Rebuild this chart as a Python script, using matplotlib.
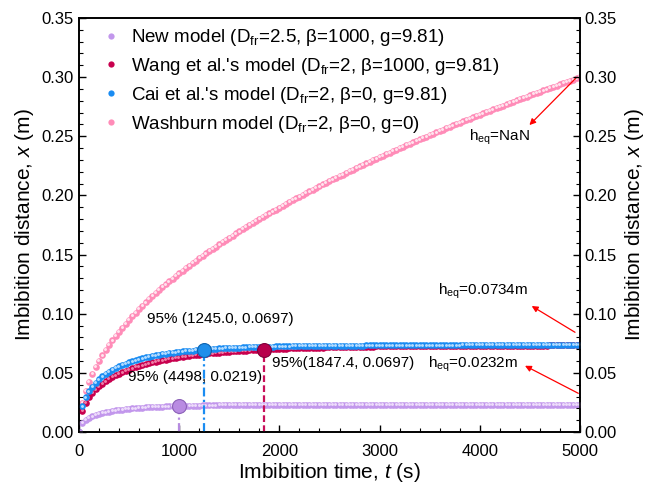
import numpy as np
import matplotlib.pyplot as plt
import matplotlib.transforms as mtransforms
from matplotlib.lines import Line2D
from matplotlib.ticker import MultipleLocator, FormatStrFormatter

plt.rcParams['font.family'] = 'Liberation Sans'
plt.rcParams['mathtext.fontset'] = 'custom'
plt.rcParams['mathtext.rm'] = 'Liberation Sans'
plt.rcParams['mathtext.it'] = 'Liberation Sans:italic'

# time grid of the computed curves (s)
time_s = np.linspace(0, 5000, 151)

washburn = [
    0.0000, 0.0245, 0.0346, 0.0424, 0.0490, 0.0548, 0.0600, 0.0648, 0.0693, 0.0735,
    0.0775, 0.0812, 0.0849, 0.0883, 0.0917, 0.0949, 0.0980, 0.1010, 0.1039, 0.1068,
    0.1095, 0.1123, 0.1149, 0.1175, 0.1200, 0.1225, 0.1249, 0.1273, 0.1296, 0.1319,
    0.1342, 0.1364, 0.1386, 0.1407, 0.1428, 0.1449, 0.1470, 0.1490, 0.1510, 0.1530,
    0.1549, 0.1568, 0.1587, 0.1606, 0.1625, 0.1643, 0.1661, 0.1679, 0.1697, 0.1715,
    0.1732, 0.1749, 0.1766, 0.1783, 0.1800, 0.1817, 0.1833, 0.1849, 0.1866, 0.1881,
    0.1897, 0.1913, 0.1929, 0.1944, 0.1960, 0.1975, 0.1990, 0.2005, 0.2020, 0.2035,
    0.2049, 0.2064, 0.2078, 0.2093, 0.2107, 0.2121, 0.2135, 0.2149, 0.2163, 0.2177,
    0.2191, 0.2205, 0.2218, 0.2231, 0.2245, 0.2258, 0.2272, 0.2285, 0.2298, 0.2311,
    0.2324, 0.2337, 0.2350, 0.2362, 0.2375, 0.2388, 0.2400, 0.2413, 0.2425, 0.2437,
    0.2450, 0.2462, 0.2474, 0.2486, 0.2498, 0.2510, 0.2522, 0.2534, 0.2546, 0.2557,
    0.2569, 0.2581, 0.2592, 0.2604, 0.2615, 0.2627, 0.2638, 0.2650, 0.2661, 0.2672,
    0.2683, 0.2694, 0.2705, 0.2717, 0.2728, 0.2739, 0.2750, 0.2760, 0.2771, 0.2782,
    0.2793, 0.2804, 0.2814, 0.2825, 0.2836, 0.2846, 0.2857, 0.2867, 0.2877, 0.2888,
    0.2898, 0.2909, 0.2919, 0.2929, 0.2939, 0.2950, 0.2960, 0.2970, 0.2980, 0.2990,
    0.3000,
]

cai = [
    0.0000, 0.0217, 0.0292, 0.0344, 0.0384, 0.0417, 0.0446, 0.0470, 0.0491, 0.0510,
    0.0526, 0.0541, 0.0555, 0.0567, 0.0578, 0.0589, 0.0598, 0.0606, 0.0614, 0.0623,
    0.0630, 0.0636, 0.0642, 0.0648, 0.0653, 0.0658, 0.0662, 0.0667, 0.0671, 0.0674,
    0.0678, 0.0681, 0.0684, 0.0687, 0.0689, 0.0692, 0.0694, 0.0697, 0.0699, 0.0701,
    0.0703, 0.0704, 0.0706, 0.0707, 0.0709, 0.0710, 0.0712, 0.0713, 0.0714, 0.0715,
    0.0716, 0.0717, 0.0718, 0.0719, 0.0720, 0.0720, 0.0721, 0.0722, 0.0722, 0.0723,
    0.0724, 0.0724, 0.0725, 0.0725, 0.0726, 0.0726, 0.0727, 0.0727, 0.0727, 0.0728,
    0.0728, 0.0728, 0.0729, 0.0729, 0.0729, 0.0729, 0.0730, 0.0730, 0.0730, 0.0730,
    0.0731, 0.0731, 0.0731, 0.0731, 0.0731, 0.0731, 0.0732, 0.0732, 0.0732, 0.0732,
    0.0732, 0.0732, 0.0732, 0.0732, 0.0732, 0.0732, 0.0733, 0.0733, 0.0733, 0.0733,
    0.0733, 0.0733, 0.0733, 0.0733, 0.0733, 0.0733, 0.0733, 0.0733, 0.0733, 0.0733,
    0.0733, 0.0733, 0.0733, 0.0733, 0.0733, 0.0734, 0.0734, 0.0734, 0.0734, 0.0734,
    0.0734, 0.0734, 0.0734, 0.0734, 0.0734, 0.0734, 0.0734, 0.0734, 0.0734, 0.0734,
    0.0734, 0.0734, 0.0734, 0.0734, 0.0734, 0.0734, 0.0734, 0.0734, 0.0734, 0.0734,
    0.0734, 0.0734, 0.0734, 0.0734, 0.0734, 0.0734, 0.0734, 0.0734, 0.0734, 0.0734,
    0.0734,
]

wang = [
    0.0000, 0.0181, 0.0246, 0.0293, 0.0330, 0.0360, 0.0386, 0.0409, 0.0429, 0.0447,
    0.0464, 0.0479, 0.0492, 0.0505, 0.0517, 0.0528, 0.0538, 0.0548, 0.0556, 0.0564,
    0.0572, 0.0580, 0.0588, 0.0594, 0.0600, 0.0606, 0.0612, 0.0617, 0.0622, 0.0627,
    0.0631, 0.0636, 0.0640, 0.0644, 0.0647, 0.0651, 0.0654, 0.0658, 0.0661, 0.0664,
    0.0666, 0.0669, 0.0672, 0.0674, 0.0676, 0.0679, 0.0681, 0.0683, 0.0685, 0.0687,
    0.0689, 0.0690, 0.0692, 0.0694, 0.0695, 0.0697, 0.0698, 0.0699, 0.0701, 0.0702,
    0.0703, 0.0704, 0.0705, 0.0706, 0.0707, 0.0708, 0.0709, 0.0710, 0.0710, 0.0711,
    0.0712, 0.0713, 0.0714, 0.0714, 0.0715, 0.0716, 0.0716, 0.0717, 0.0717, 0.0718,
    0.0719, 0.0719, 0.0720, 0.0720, 0.0721, 0.0721, 0.0722, 0.0722, 0.0722, 0.0723,
    0.0723, 0.0723, 0.0724, 0.0724, 0.0725, 0.0725, 0.0725, 0.0725, 0.0726, 0.0726,
    0.0726, 0.0727, 0.0727, 0.0727, 0.0727, 0.0727, 0.0728, 0.0728, 0.0728, 0.0728,
    0.0728, 0.0729, 0.0729, 0.0729, 0.0729, 0.0729, 0.0729, 0.0729, 0.0730, 0.0730,
    0.0730, 0.0730, 0.0730, 0.0730, 0.0730, 0.0730, 0.0730, 0.0730, 0.0730, 0.0731,
    0.0731, 0.0731, 0.0731, 0.0731, 0.0731, 0.0731, 0.0731, 0.0731, 0.0731, 0.0731,
    0.0731, 0.0732, 0.0732, 0.0732, 0.0732, 0.0732, 0.0732, 0.0732, 0.0732, 0.0732,
    0.0732,
]

new_model = [
    0.0000, 0.0075, 0.0101, 0.0118, 0.0132, 0.0143, 0.0152, 0.0159, 0.0166, 0.0172,
    0.0177, 0.0182, 0.0186, 0.0190, 0.0193, 0.0196, 0.0199, 0.0201, 0.0204, 0.0206,
    0.0208, 0.0210, 0.0211, 0.0213, 0.0214, 0.0215, 0.0217, 0.0218, 0.0219, 0.0220,
    0.0220, 0.0221, 0.0222, 0.0222, 0.0223, 0.0224, 0.0224, 0.0225, 0.0225, 0.0226,
    0.0226, 0.0226, 0.0227, 0.0227, 0.0227, 0.0228, 0.0228, 0.0228, 0.0228, 0.0229,
    0.0229, 0.0229, 0.0229, 0.0229, 0.0229, 0.0229, 0.0230, 0.0230, 0.0230, 0.0230,
    0.0230, 0.0230, 0.0230, 0.0231, 0.0231, 0.0231, 0.0231, 0.0231, 0.0231, 0.0231,
    0.0231, 0.0231, 0.0231, 0.0231, 0.0231, 0.0231, 0.0231, 0.0231, 0.0232, 0.0232,
    0.0232, 0.0232, 0.0232, 0.0232, 0.0232, 0.0232, 0.0232, 0.0232, 0.0232, 0.0232,
    0.0232, 0.0232, 0.0232, 0.0232, 0.0232, 0.0232, 0.0232, 0.0232, 0.0232, 0.0232,
    0.0232, 0.0232, 0.0232, 0.0232, 0.0232, 0.0232, 0.0232, 0.0232, 0.0232, 0.0232,
    0.0232, 0.0232, 0.0232, 0.0232, 0.0232, 0.0232, 0.0232, 0.0232, 0.0232, 0.0232,
    0.0232, 0.0232, 0.0232, 0.0232, 0.0232, 0.0232, 0.0232, 0.0232, 0.0232, 0.0232,
    0.0232, 0.0232, 0.0232, 0.0232, 0.0232, 0.0232, 0.0232, 0.0232, 0.0232, 0.0232,
    0.0232, 0.0232, 0.0232, 0.0232, 0.0232, 0.0232, 0.0232, 0.0232, 0.0232, 0.0232,
    0.0232,
]

legend_labels = [
    r'New model ($\mathregular{D_{fr}}$=2.5, β=1000, g=9.81)',
    r"Wang et al.'s model ($\mathregular{D_{fr}}$=2, β=1000, g=9.81)",
    r"Cai et al.'s model ($\mathregular{D_{fr}}$=2, β=0, g=9.81)",
    r'Washburn model ($\mathregular{D_{fr}}$=2, β=0, g=0)',
]

# 95 % points: new, cai, wang
p95_t = [1000.0, 1245.0, 1847.4]
p95_x = [0.0220, 0.0697, 0.0697]
p95_text = ['95% (4498, 0.0219)', '95% (1245.0, 0.0697)', '95%(1847.4, 0.0697)']
p95_text_pos = [(1160, 0.0462), (1410, 0.0955), (2640, 0.0587)]

# equilibrium height notes
eq_text = [r'$\mathregular{h_{eq}}$=NaN', r'$\mathregular{h_{eq}}$=0.0734m',
           r'$\mathregular{h_{eq}}$=0.0232m']
eq_text_pos = [(4200, 0.2490), (4030, 0.1190), (3930, 0.0575)]
eq_tail = [(4960, 0.2993), (4950, 0.0843), (4983, 0.0327)]
eq_head = [(4495, 0.2595), (4518, 0.1065), (4451, 0.0560)]

c_new, c_wang, c_cai, c_wash = '#C297EC', '#C8004E', '#1A8CF2', '#FF8CB8'
light = {c_new: '#EEDDFB', c_wang: '#F07FA8', c_cai: '#B5DCFF', c_wash: '#FFE6EF'}

fig = plt.figure(figsize=(6.49, 4.83), dpi=100)
ax = fig.add_axes([0.1217, 0.1056, 0.7720, 0.8571])
hl = mtransforms.offset_copy(ax.transData, fig=fig, x=-0.5, y=0.5, units='points')


def balls(y, color, z):
    ax.plot(time_s, y, 'o', ms=4.8, mfc=color, mec='none', zorder=z)
    ax.plot(time_s, y, 'o', ms=2.1, mfc=light[color], mec='none', transform=hl, zorder=z + 0.1)


balls(washburn, c_wash, 2)
balls(wang, c_wang, 3)
balls(cai, c_cai, 4)
balls(new_model, c_new, 5)

vcolors = ['#B68BE0', '#1A8CF2', '#C8105A']
vstyles = [(0, (4, 1.5, 1, 1.5)), (0, (4, 1.5, 1, 1.5)), (0, (3, 1.5))]
big_face = ['#B98BE2', '#1E8EEA', '#B8004C']
big_edge = ['#8C62B8', '#0E64B0', '#80003A']
for k in range(3):
    ax.plot([p95_t[k], p95_t[k]], [0, p95_x[k]], color=vcolors[k], lw=1.6,
            ls=vstyles[k], zorder=6)
    ax.plot(p95_t[k], p95_x[k], 'o', ms=10, mfc=big_face[k], mec=big_edge[k],
            mew=0.8, zorder=7)
    ax.text(p95_text_pos[k][0], p95_text_pos[k][1], p95_text[k], fontsize=11,
            ha='center', va='center', zorder=8)

for k in range(3):
    ax.annotate('', xy=eq_head[k], xytext=eq_tail[k],
                arrowprops=dict(arrowstyle='-|>', color='red', lw=0.9,
                                shrinkA=0, shrinkB=0, mutation_scale=9))
    ax.text(eq_text_pos[k][0], eq_text_pos[k][1], eq_text[k], fontsize=11,
            ha='center', va='center')

ax.set_xlim(0, 5000)
ax.set_ylim(0, 0.35)
ax.xaxis.set_major_locator(MultipleLocator(1000))
ax.xaxis.set_minor_locator(MultipleLocator(200))
ax.yaxis.set_major_locator(MultipleLocator(0.05))
ax.yaxis.set_minor_locator(MultipleLocator(0.01))
ax.yaxis.set_major_formatter(FormatStrFormatter('%.2f'))
ax.tick_params(which='both', direction='in', top=False, right=False, labelsize=12)
ax.tick_params(which='major', length=5, width=1)
ax.tick_params(which='minor', length=3, width=0.8)
ax.tick_params(axis='x', pad=9)
ax.set_xlabel(r'Imbibition time, $t$ (s)', fontsize=15, labelpad=1)
ax.set_ylabel(r'Imbibition distance, $x$ (m)', fontsize=15)

ax2 = ax.twinx()
ax2.set_ylim(0, 0.35)
ax2.yaxis.set_major_locator(MultipleLocator(0.05))
ax2.yaxis.set_minor_locator(MultipleLocator(0.01))
ax2.yaxis.set_major_formatter(FormatStrFormatter('%.2f'))
ax2.tick_params(which='both', direction='in', labelsize=12)
ax2.tick_params(which='major', length=5, width=1)
ax2.tick_params(which='minor', length=3, width=0.8)
ax2.set_ylabel(r'Imbibition distance, $x$ (m)', fontsize=15)
for a in (ax, ax2):
    for s in a.spines.values():
        s.set_linewidth(1.2)

handles = [Line2D([], [], ls='none', marker='o', ms=4.5, mfc=c, mec='none')
           for c in (c_new, c_wang, c_cai, c_wash)]
ax.legend(handles, legend_labels, loc='upper left', bbox_to_anchor=(0.0445, 0.978),
          frameon=False, fontsize=13.5, handlelength=1.0, handletextpad=0.6,
          borderpad=0, borderaxespad=0, labelspacing=0.42)

fig.savefig('out.png', dpi=100)
